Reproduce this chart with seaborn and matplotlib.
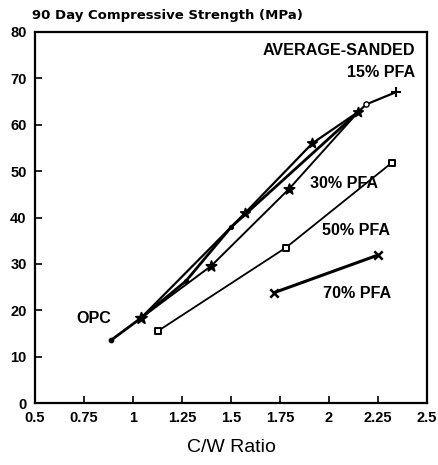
import matplotlib
matplotlib.use("Agg")
import matplotlib.pyplot as plt
import seaborn as sns
import pandas as pd

# C/W ratio vs 90-day compressive strength, average-sanded mixes
opc_x = [0.89, 1.04, 1.27, 1.50, 2.15]
opc_y = [13.6, 18.3, 26.3, 37.9, 62.8]

pfa15_x = [1.04, 1.57, 1.915, 2.15, 2.19, 2.34]
pfa15_y = [18.3, 40.9, 56.0, 62.8, 64.4, 67.0]

pfa30_x = [1.04, 1.40, 1.797, 2.15]
pfa30_y = [18.3, 29.6, 46.2, 62.8]

pfa50_x = [1.13, 1.78, 2.32]
pfa50_y = [15.6, 33.5, 51.8]

pfa70_x = [1.72, 2.25]
pfa70_y = [23.8, 31.9]

x_ticks = [0.5, 0.75, 1, 1.25, 1.5, 1.75, 2, 2.25, 2.5]
x_tick_labels = ["0.5", "0.75", "1", "1.25", "1.5", "1.75", "2", "2.25", "2.5"]
y_ticks = [0, 10, 20, 30, 40, 50, 60, 70, 80]

sns.set_theme(style="ticks")
plt.rcParams["font.family"] = ["Liberation Sans", "DejaVu Sans"]
plt.rcParams["text.color"] = "black"
plt.rcParams["axes.labelcolor"] = "black"

fig = plt.figure(figsize=(4.39, 4.65), dpi=100)
ax = fig.add_axes([0.0797, 0.1333, 0.893, 0.7979])


def draw_line(xs, ys, lw):
    df = pd.DataFrame({"cw": xs, "strength": ys})
    sns.lineplot(data=df, x="cw", y="strength", ax=ax, color="black",
                 linewidth=lw, sort=False)


def draw_marks(xs, ys, mk, size, filled=True, ew=1.3):
    df = pd.DataFrame({"cw": xs, "strength": ys})
    if mk in ("+", "x"):
        sns.scatterplot(data=df, x="cw", y="strength", ax=ax, marker=mk,
                        s=size, color="black", linewidth=ew, zorder=5)
    else:
        sns.scatterplot(data=df, x="cw", y="strength", ax=ax, marker=mk,
                        s=size, facecolor="black" if filled else "white",
                        edgecolor="black", linewidth=ew, zorder=5)


# OPC
draw_line(opc_x, opc_y, 2.0)
draw_marks(opc_x[:1], opc_y[:1], "o", 8)
draw_marks(opc_x[1:2], opc_y[1:2], "*", 70)
draw_marks(opc_x[2:4], opc_y[2:4], "o", 6)

# 15% PFA
draw_line(pfa15_x, pfa15_y, 1.6)
draw_marks(pfa15_x[1:4], pfa15_y[1:4], "*", 50)
draw_marks(pfa15_x[4:5], pfa15_y[4:5], "o", 14, filled=False, ew=1.0)
draw_marks(pfa15_x[5:], pfa15_y[5:], "+", 60, ew=1.5)

# 30% PFA
draw_line(pfa30_x, pfa30_y, 1.4)
draw_marks(pfa30_x[1:3], pfa30_y[1:3], "*", 60)

# 50% PFA
draw_line(pfa50_x, pfa50_y, 1.3)
draw_marks(pfa50_x, pfa50_y, "s", 22, filled=False, ew=1.4)

# 70% PFA
draw_line(pfa70_x, pfa70_y, 2.2)
draw_marks(pfa70_x, pfa70_y, "x", 36, ew=1.8)

ax.set_xlim(0.5, 2.5)
ax.set_ylim(0, 80)
ax.set_xticks(x_ticks)
ax.set_xticklabels(x_tick_labels)
ax.set_yticks(y_ticks)
ax.tick_params(direction="in", length=5, width=1.2, labelsize=10.5, pad=6,
               colors="black")
for lab in ax.get_xticklabels() + ax.get_yticklabels():
    lab.set_fontweight("bold")
for sp in ax.spines.values():
    sp.set_linewidth(1.6)
    sp.set_color("black")

ax.set_xlabel("C/W Ratio", fontsize=14, labelpad=10)
ax.set_ylabel("")

fig.text(0.073, 0.967, "90 Day Compressive Strength (MPa)", fontsize=9.5,
         fontweight="bold", ha="left", va="center",
         family=["DejaVu Sans"])

lab_kw = dict(fontsize=11.6, fontweight="bold", va="center")
ax.text(2.439, 76.1, "AVERAGE-SANDED", ha="right", **lab_kw)
ax.text(2.439, 71.2, "15% PFA", ha="right", **lab_kw)
ax.text(1.903, 47.4, "30% PFA", ha="left", **lab_kw)
ax.text(1.964, 37.3, "50% PFA", ha="left", **lab_kw)
ax.text(1.969, 23.7, "70% PFA", ha="left", **lab_kw)
ax.text(0.709, 18.3, "OPC", ha="left", **lab_kw)

fig.savefig("out.png", dpi=100)
